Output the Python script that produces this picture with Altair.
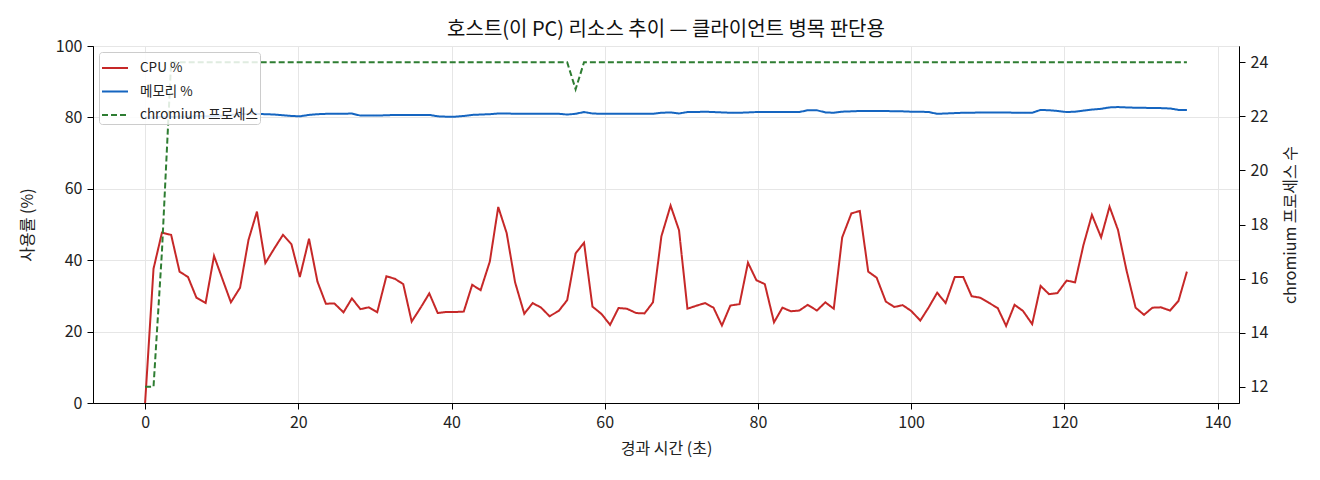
import altair as alt
import pandas as pd

# elapsed seconds of each sample
elapsed = [0.0, 1.1, 2.2, 3.4, 4.5, 5.6, 6.7, 7.9, 9.0, 10.1,
           11.2, 12.4, 13.5, 14.6, 15.7, 16.9, 18.0, 19.1, 20.2, 21.4,
           22.5, 23.6, 24.7, 25.9, 27.0, 28.1, 29.2, 30.3, 31.5, 32.6,
           33.7, 34.8, 36.0, 37.1, 38.2, 39.3, 40.5, 41.6, 42.7, 43.8,
           45.0, 46.1, 47.2, 48.3, 49.5, 50.6, 51.7, 52.8, 54.0, 55.1,
           56.2, 57.3, 58.4, 59.6, 60.7, 61.8, 62.9, 64.1, 65.2, 66.3,
           67.4, 68.6, 69.7, 70.8, 71.9, 73.1, 74.2, 75.3, 76.4, 77.6,
           78.7, 79.8, 80.9, 82.1, 83.2, 84.3, 85.4, 86.5, 87.7, 88.8,
           89.9, 91.0, 92.2, 93.3, 94.4, 95.5, 96.7, 97.8, 98.9, 100.0,
           101.2, 102.3, 103.4, 104.5, 105.7, 106.8, 107.9, 109.0, 110.2, 111.3,
           112.4, 113.5, 114.6, 115.8, 116.9, 118.0, 119.1, 120.3, 121.4, 122.5,
           123.6, 124.8, 125.9, 127.0, 128.1, 129.3, 130.4, 131.5, 132.6, 133.8,
           134.9, 136.0]

cpu = [0.0, 37.6, 47.7, 47.1, 36.8, 35.3, 29.5, 28.0, 41.2, 34.7,
       28.2, 32.3, 45.7, 53.6, 39.2, 43.4, 47.1, 44.5, 35.3, 46.0,
       34.0, 27.8, 27.9, 25.4, 29.3, 26.3, 26.8, 25.4, 35.5, 34.8,
       33.3, 22.8, 26.8, 30.7, 25.2, 25.5, 25.5, 25.6, 33.1, 31.6,
       39.6, 54.9, 47.6, 33.8, 25.0, 28.0, 26.7, 24.3, 25.8, 28.8,
       41.9, 44.9, 27.0, 24.9, 21.9, 26.6, 26.4, 25.2, 25.1, 28.2,
       46.7, 55.3, 48.4, 26.4, 27.2, 28.0, 26.7, 21.7, 27.3, 27.7,
       39.3, 34.4, 33.3, 22.6, 26.7, 25.7, 25.9, 27.5, 25.9, 28.2,
       26.4, 46.4, 53.1, 53.8, 36.8, 35.1, 28.4, 26.9, 27.4, 25.8,
       23.1, 26.8, 30.9, 28.0, 35.3, 35.3, 29.9, 29.5, 28.0, 26.6,
       21.6, 27.5, 25.8, 22.1, 32.8, 30.5, 30.8, 34.3, 33.8, 44.3,
       52.7, 46.4, 55.0, 48.5, 37.3, 26.7, 24.7, 26.7, 26.8, 25.9,
       28.6, 36.8]

mem = [80.0, 80.0, 80.1, 80.1, 80.2, 80.2, 80.3, 80.3, 80.4, 80.5,
       80.7, 80.9, 81.0, 81.0, 80.9, 80.8, 80.6, 80.4, 80.3, 80.7,
       80.9, 81.0, 81.0, 81.0, 81.1, 80.5, 80.5, 80.5, 80.6, 80.7,
       80.7, 80.7, 80.7, 80.7, 80.3, 80.2, 80.2, 80.4, 80.7, 80.8,
       80.9, 81.1, 81.1, 81.0, 81.0, 81.0, 81.0, 81.0, 81.0, 80.8,
       81.0, 81.5, 81.1, 81.0, 81.0, 81.0, 81.0, 81.0, 81.0, 81.0,
       81.3, 81.4, 81.1, 81.5, 81.5, 81.6, 81.5, 81.4, 81.3, 81.3,
       81.4, 81.5, 81.5, 81.5, 81.5, 81.5, 81.5, 82.0, 82.0, 81.4,
       81.3, 81.6, 81.7, 81.8, 81.8, 81.8, 81.8, 81.7, 81.7, 81.6,
       81.6, 81.5, 81.0, 81.1, 81.2, 81.3, 81.3, 81.4, 81.4, 81.4,
       81.4, 81.3, 81.3, 81.3, 82.1, 82.0, 81.8, 81.5, 81.6, 81.9,
       82.2, 82.4, 82.8, 82.9, 82.8, 82.7, 82.7, 82.6, 82.6, 82.5,
       82.1, 82.1]

chromium = [12, 12, 17, 24, 24, 24, 24, 24, 24, 24,
            24, 24, 24, 24, 24, 24, 24, 24, 24, 24,
            24, 24, 24, 24, 24, 24, 24, 24, 24, 24,
            24, 24, 24, 24, 24, 24, 24, 24, 24, 24,
            24, 24, 24, 24, 24, 24, 24, 24, 24, 24,
            23, 24, 24, 24, 24, 24, 24, 24, 24, 24,
            24, 24, 24, 24, 24, 24, 24, 24, 24, 24,
            24, 24, 24, 24, 24, 24, 24, 24, 24, 24,
            24, 24, 24, 24, 24, 24, 24, 24, 24, 24,
            24, 24, 24, 24, 24, 24, 24, 24, 24, 24,
            24, 24, 24, 24, 24, 24, 24, 24, 24, 24,
            24, 24, 24, 24, 24, 24, 24, 24, 24, 24,
            24, 24]

series = ["CPU %", "메모리 %", "chromium 프로세스"]
colors = ["#c62828", "#1565c0", "#2e7d32"]
dashes = [[1, 0], [1, 0], [6, 3]]

FONT = "Noto Sans CJK KR"

usage = pd.concat([
    pd.DataFrame({"t": elapsed, "v": cpu, "series": "CPU %"}),
    pd.DataFrame({"t": elapsed, "v": mem, "series": "메모리 %"}),
])
procs = pd.DataFrame({"t": elapsed, "n": chromium, "series": "chromium 프로세스"})

x = alt.X("t:Q", title="경과 시간 (초)",
          scale=alt.Scale(domain=[-6.8, 142.8], nice=False, zero=False),
          axis=alt.Axis(values=[0, 20, 40, 60, 80, 100, 120, 140], titlePadding=10))

legend = alt.Legend(title=None, orient="top-left", offset=6, padding=2,
                    fillColor="rgba(255,255,255,0.85)", strokeColor="#cccccc",
                    cornerRadius=3, symbolType="stroke", symbolSize=676,
                    symbolStrokeWidth=2, labelFontSize=13.5, rowPadding=2.5,
                    labelOffset=11, labelFont=FONT, labelColor="#222222")
color = alt.Color("series:N", scale=alt.Scale(domain=series, range=colors), legend=legend)
dash = alt.StrokeDash("series:N", scale=alt.Scale(domain=series, range=dashes), legend=legend)

left = alt.Chart(usage).mark_line(strokeWidth=2).encode(
    x=x,
    y=alt.Y("v:Q", title="사용률 (%)",
            scale=alt.Scale(domain=[0, 100], nice=False),
            axis=alt.Axis(values=[0, 20, 40, 60, 80, 100], grid=True, titlePadding=20)),
    color=color,
    strokeDash=dash,
    detail="series:N",
)

right = alt.Chart(procs).mark_line(strokeWidth=2).encode(
    x=x,
    y=alt.Y("n:Q", title="chromium 프로세스 수",
            scale=alt.Scale(domain=[11.4, 24.6], nice=False, zero=False),
            axis=alt.Axis(orient="right", values=[12, 14, 16, 18, 20, 22, 24],
                          grid=False, titleAngle=270, titlePadding=31)),
    color=color,
    strokeDash=dash,
)

chart = alt.layer(left, right).resolve_scale(y="independent").properties(
    width=1146, height=357,
    autosize=alt.AutoSizeParams(type="none"),
    padding={"left": 85, "top": 38, "right": 73, "bottom": 69},
    title=alt.Title("호스트(이 PC) 리소스 추이 — 클라이언트 병목 판단용",
                    fontSize=20, fontWeight="normal", font=FONT, offset=-2,
                    color="#111111"),
).configure_view(
    stroke="black", strokeWidth=1
).configure_axis(
    labelFont=FONT, titleFont=FONT, labelFontSize=16, titleFontSize=16,
    titleFontWeight="normal", labelColor="#222222", titleColor="#222222",
    domainColor="black", tickColor="black", tickSize=6, labelPadding=5,
    gridColor="#e6e6e6",
)

chart.save("out.html", embed_options={"renderer": "svg", "actions": False})
